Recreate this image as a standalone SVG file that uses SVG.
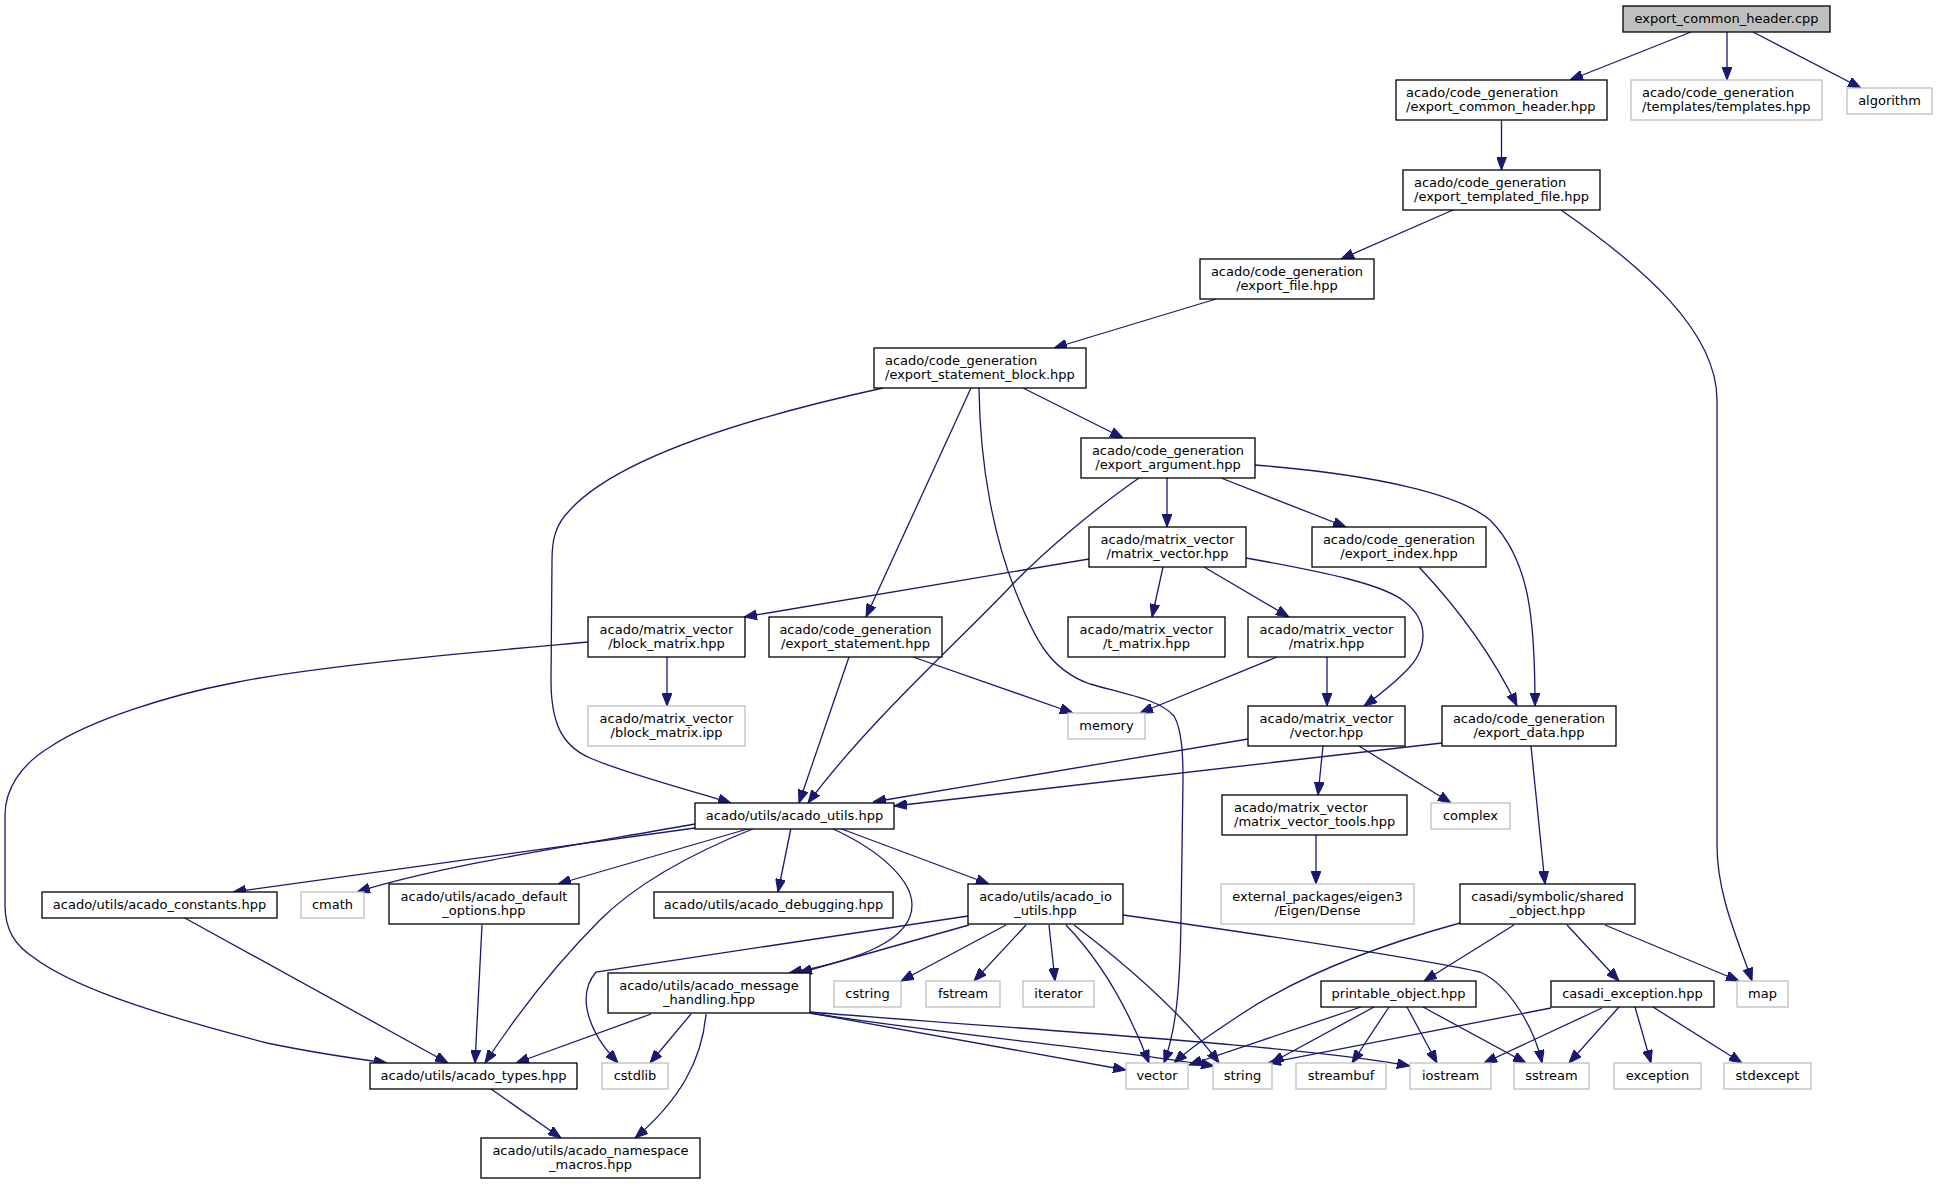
<svg xmlns="http://www.w3.org/2000/svg" width="1937" height="1184" viewBox="0 0 1937 1184">
<style>
.n rect{fill:#ffffff;stroke:#000000;stroke-width:1.3}
.g rect{fill:#ffffff;stroke:#bfbfbf;stroke-width:1.3}
.r rect{fill:#bfbfbf;stroke:#000000;stroke-width:1.3}
text{font-family:"DejaVu Sans",sans-serif;font-size:13px;fill:#000000;text-anchor:middle}
text.l{text-anchor:start}
#edges path{fill:none;stroke:#191970;stroke-width:1.3;marker-end:url(#a)}
</style>
<defs>
<marker id="a" viewBox="0 0 13 10" markerWidth="13" markerHeight="10" refX="13" refY="5" orient="auto" markerUnits="userSpaceOnUse">
<path d="M0,0 L13,5 L0,10 z" fill="#191970" stroke="#191970" stroke-width="1"/>
</marker>
</defs>
<rect width="1937" height="1184" fill="#ffffff"/>
<g id="edges">
<path d="M1691,32 L1570,80"/>
<path d="M1727,32 L1727,80"/>
<path d="M1753,32 L1861,88"/>
<path d="M1501.5,120 L1501.5,170"/>
<path d="M1453,210 L1341,259"/>
<path d="M1561,210 C1640,265 1717,330 1717,400 L1717,845 C1717,895 1738,940 1752,981"/>
<path d="M1216,299 L1054,348"/>
<path d="M1023,388 L1123,438"/>
<path d="M971,388 L866,617"/>
<path d="M979,388 C980,470 995,540 1015,590 C1035,640 1050,670 1090,684 C1130,695 1160,700 1174,716 C1182,730 1183,755 1183,780 L1181,920 C1180,990 1176,1030 1164,1063"/>
<path d="M883,388 C760,415 620,455 570,510 C555,525 552,540 552,560 L551,680 C551,720 560,745 590,758 C630,775 690,790 731,803"/>
<path d="M1167,478 L1167,527"/>
<path d="M1221,478 L1346,527"/>
<path d="M1255,465 C1380,475 1460,495 1490,520 C1530,560 1535,620 1535,706"/>
<path d="M1139,478 C1100,505 1045,550 1010,587 C960,640 870,720 808,803"/>
<path d="M1089,559 L744,617"/>
<path d="M1163,567 L1152,617"/>
<path d="M1204,567 L1289,617"/>
<path d="M1246,558 C1330,573 1385,585 1405,602 C1430,622 1428,650 1405,672 C1390,687 1378,696 1364,706"/>
<path d="M1419,567 C1450,600 1490,650 1517,706"/>
<path d="M667,657 L667,706"/>
<path d="M588,642 C500,650 320,665 233,683 C170,695 90,720 50,747 C20,765 5,790 5,815 L5,905 C5,930 15,945 33,957 C70,985 140,1010 267,1043 C310,1052 350,1058 387,1063"/>
<path d="M913,657 L1073,713"/>
<path d="M849,657 L799,803"/>
<path d="M1327,657 L1327,706"/>
<path d="M1277,657 L1140,713"/>
<path d="M1248,739 L873,802"/>
<path d="M1323,746 L1318,795"/>
<path d="M1359,746 L1451,803"/>
<path d="M1442,743 L894,806"/>
<path d="M1531,746 L1545,884"/>
<path d="M1316,835 L1316,884"/>
<path d="M695,828 L233,892"/>
<path d="M695,824 C560,848 440,866 357,892"/>
<path d="M751,828 L558,884"/>
<path d="M755,828 C700,850 640,880 600,920 C560,960 520,1010 485,1063"/>
<path d="M791,828 L778,892"/>
<path d="M831,828 C880,850 912,880 912,905 C912,940 860,960 789,973"/>
<path d="M839,828 L989,884"/>
<path d="M183,917 L448,1063"/>
<path d="M482,925 L475,1063"/>
<path d="M969,925 L799,973"/>
<path d="M968,916 L596,972 C585,985 583,1000 590,1020 C597,1040 608,1052 618,1063"/>
<path d="M1006,925 L901,981"/>
<path d="M1026,925 L974,981"/>
<path d="M1049,925 L1055,981"/>
<path d="M1066,925 C1095,955 1125,1000 1149,1063"/>
<path d="M1074,925 C1120,960 1180,1010 1219,1063"/>
<path d="M1123,915 C1250,933 1400,955 1480,972 C1510,985 1535,1030 1542,1063"/>
<path d="M1460,923 C1380,945 1300,975 1240,1015 C1210,1035 1190,1048 1174,1063"/>
<path d="M1514,925 L1424,981"/>
<path d="M1567,925 L1619,981"/>
<path d="M1605,925 L1739,981"/>
<path d="M651,1014 L516,1063"/>
<path d="M691,1014 L650,1063"/>
<path d="M706,1014 C702,1060 680,1100 635,1138"/>
<path d="M810,1013 L1126,1070"/>
<path d="M810,1013 C950,1035 1100,1048 1214,1066"/>
<path d="M810,1012 C1000,1028 1300,1045 1410,1066"/>
<path d="M491,1089 L561,1138"/>
<path d="M1361,1007 L1189,1065"/>
<path d="M1374,1007 L1271,1063"/>
<path d="M1389,1007 L1352,1063"/>
<path d="M1407,1007 L1437,1063"/>
<path d="M1423,1007 L1526,1063"/>
<path d="M1551,1008 L1268,1063"/>
<path d="M1602,1008 L1484,1063"/>
<path d="M1619,1007 L1569,1063"/>
<path d="M1635,1007 L1651,1063"/>
<path d="M1653,1007 L1742,1063"/>
</g>
<g id="root" class="r"><rect x="1623" y="6" width="207" height="26"/><text x="1726.5" y="22.8">export_common_header.cpp</text></g>
<g id="export_common_header" class="n"><rect x="1396" y="80" width="211" height="40"/><text class="l" x="1406" y="96.7">acado/code_generation</text><text class="l" x="1406" y="110.7">/export_common_header.hpp</text></g>
<g id="templates" class="g"><rect x="1631" y="80" width="191" height="40"/><text class="l" x="1642" y="96.7">acado/code_generation</text><text class="l" x="1642" y="110.7">/templates/templates.hpp</text></g>
<g id="algorithm" class="g"><rect x="1847" y="88" width="85" height="26"/><text x="1889.5" y="104.8">algorithm</text></g>
<g id="export_templated_file" class="n"><rect x="1403" y="170" width="197" height="40"/><text class="l" x="1414" y="186.7">acado/code_generation</text><text class="l" x="1414" y="200.7">/export_templated_file.hpp</text></g>
<g id="export_file" class="n"><rect x="1200" y="259" width="174" height="40"/><text x="1287" y="275.7">acado/code_generation</text><text x="1287" y="289.7">/export_file.hpp</text></g>
<g id="export_statement_block" class="n"><rect x="874" y="348" width="212" height="40"/><text class="l" x="885" y="364.7">acado/code_generation</text><text class="l" x="885" y="378.7">/export_statement_block.hpp</text></g>
<g id="export_argument" class="n"><rect x="1081" y="438" width="174" height="40"/><text x="1168" y="454.7">acado/code_generation</text><text x="1168" y="468.7">/export_argument.hpp</text></g>
<g id="matrix_vector" class="n"><rect x="1089" y="527" width="157" height="40"/><text x="1167.5" y="543.7">acado/matrix_vector</text><text x="1167.5" y="557.7">/matrix_vector.hpp</text></g>
<g id="export_index" class="n"><rect x="1312" y="527" width="174" height="40"/><text x="1399" y="543.7">acado/code_generation</text><text x="1399" y="557.7">/export_index.hpp</text></g>
<g id="block_matrix" class="n"><rect x="588" y="617" width="157" height="40"/><text x="666.5" y="633.7">acado/matrix_vector</text><text x="666.5" y="647.7">/block_matrix.hpp</text></g>
<g id="export_statement" class="n"><rect x="769" y="617" width="173" height="40"/><text x="855.5" y="633.7">acado/code_generation</text><text x="855.5" y="647.7">/export_statement.hpp</text></g>
<g id="t_matrix" class="n"><rect x="1068" y="617" width="157" height="40"/><text x="1146.5" y="633.7">acado/matrix_vector</text><text x="1146.5" y="647.7">/t_matrix.hpp</text></g>
<g id="matrix" class="n"><rect x="1248" y="617" width="157" height="40"/><text x="1326.5" y="633.7">acado/matrix_vector</text><text x="1326.5" y="647.7">/matrix.hpp</text></g>
<g id="block_matrix_ipp" class="g"><rect x="588" y="706" width="157" height="40"/><text x="666.5" y="722.7">acado/matrix_vector</text><text x="666.5" y="736.7">/block_matrix.ipp</text></g>
<g id="memory" class="g"><rect x="1068" y="713" width="77" height="26"/><text x="1106.5" y="729.8">memory</text></g>
<g id="vector_hpp" class="n"><rect x="1248" y="706" width="157" height="40"/><text x="1326.5" y="722.7">acado/matrix_vector</text><text x="1326.5" y="736.7">/vector.hpp</text></g>
<g id="export_data" class="n"><rect x="1442" y="706" width="174" height="40"/><text x="1529" y="722.7">acado/code_generation</text><text x="1529" y="736.7">/export_data.hpp</text></g>
<g id="acado_utils" class="n"><rect x="695" y="803" width="199" height="26"/><text x="794.5" y="819.8">acado/utils/acado_utils.hpp</text></g>
<g id="matrix_vector_tools" class="n"><rect x="1222" y="795" width="185" height="40"/><text class="l" x="1234" y="811.7">acado/matrix_vector</text><text class="l" x="1234" y="825.7">/matrix_vector_tools.hpp</text></g>
<g id="complex" class="g"><rect x="1431" y="803" width="79" height="26"/><text x="1470.5" y="819.8">complex</text></g>
<g id="acado_constants" class="n"><rect x="42" y="892" width="235" height="26"/><text x="159.5" y="908.8">acado/utils/acado_constants.hpp</text></g>
<g id="cmath" class="g"><rect x="301" y="892" width="63" height="26"/><text x="332.5" y="908.8">cmath</text></g>
<g id="acado_default_options" class="n"><rect x="389" y="884" width="190" height="40"/><text x="484" y="900.7">acado/utils/acado_default</text><text x="484" y="914.7">_options.hpp</text></g>
<g id="acado_debugging" class="n"><rect x="654" y="892" width="239" height="26"/><text x="773.5" y="908.8">acado/utils/acado_debugging.hpp</text></g>
<g id="acado_io_utils" class="n"><rect x="968" y="884" width="155" height="40"/><text x="1045.5" y="900.7">acado/utils/acado_io</text><text x="1045.5" y="914.7">_utils.hpp</text></g>
<g id="eigen_dense" class="g"><rect x="1221" y="884" width="193" height="40"/><text x="1317.5" y="900.7">external_packages/eigen3</text><text x="1317.5" y="914.7">/Eigen/Dense</text></g>
<g id="shared_object" class="n"><rect x="1460" y="884" width="175" height="40"/><text x="1547.5" y="900.7">casadi/symbolic/shared</text><text x="1547.5" y="914.7">_object.hpp</text></g>
<g id="acado_message_handling" class="n"><rect x="608" y="973" width="202" height="40"/><text x="709" y="989.7">acado/utils/acado_message</text><text x="709" y="1003.7">_handling.hpp</text></g>
<g id="cstring" class="g"><rect x="834" y="981" width="67" height="26"/><text x="867.5" y="997.8">cstring</text></g>
<g id="fstream" class="g"><rect x="926" y="981" width="74" height="26"/><text x="963" y="997.8">fstream</text></g>
<g id="iterator" class="g"><rect x="1023" y="981" width="71" height="26"/><text x="1058.5" y="997.8">iterator</text></g>
<g id="printable_object" class="n"><rect x="1321" y="981" width="155" height="26"/><text x="1398.5" y="997.8">printable_object.hpp</text></g>
<g id="casadi_exception" class="n"><rect x="1551" y="981" width="163" height="26"/><text x="1632.5" y="997.8">casadi_exception.hpp</text></g>
<g id="map" class="g"><rect x="1737" y="981" width="51" height="26"/><text x="1762.5" y="997.8">map</text></g>
<g id="acado_types" class="n"><rect x="370" y="1063" width="207" height="26"/><text x="473.5" y="1079.8">acado/utils/acado_types.hpp</text></g>
<g id="cstdlib" class="g"><rect x="602" y="1063" width="66" height="26"/><text x="635" y="1079.8">cstdlib</text></g>
<g id="vector" class="g"><rect x="1126" y="1063" width="62" height="26"/><text x="1157" y="1079.8">vector</text></g>
<g id="string" class="g"><rect x="1213" y="1063" width="59" height="26"/><text x="1242.5" y="1079.8">string</text></g>
<g id="streambuf" class="g"><rect x="1296" y="1063" width="90" height="26"/><text x="1341" y="1079.8">streambuf</text></g>
<g id="iostream" class="g"><rect x="1410" y="1063" width="81" height="26"/><text x="1450.5" y="1079.8">iostream</text></g>
<g id="sstream" class="g"><rect x="1514" y="1063" width="75" height="26"/><text x="1551.5" y="1079.8">sstream</text></g>
<g id="exception" class="g"><rect x="1614" y="1063" width="87" height="26"/><text x="1657.5" y="1079.8">exception</text></g>
<g id="stdexcept" class="g"><rect x="1724" y="1063" width="87" height="26"/><text x="1767.5" y="1079.8">stdexcept</text></g>
<g id="acado_namespace_macros" class="n"><rect x="481" y="1138" width="219" height="40"/><text x="590.5" y="1154.7">acado/utils/acado_namespace</text><text x="590.5" y="1168.7">_macros.hpp</text></g>
</svg>
